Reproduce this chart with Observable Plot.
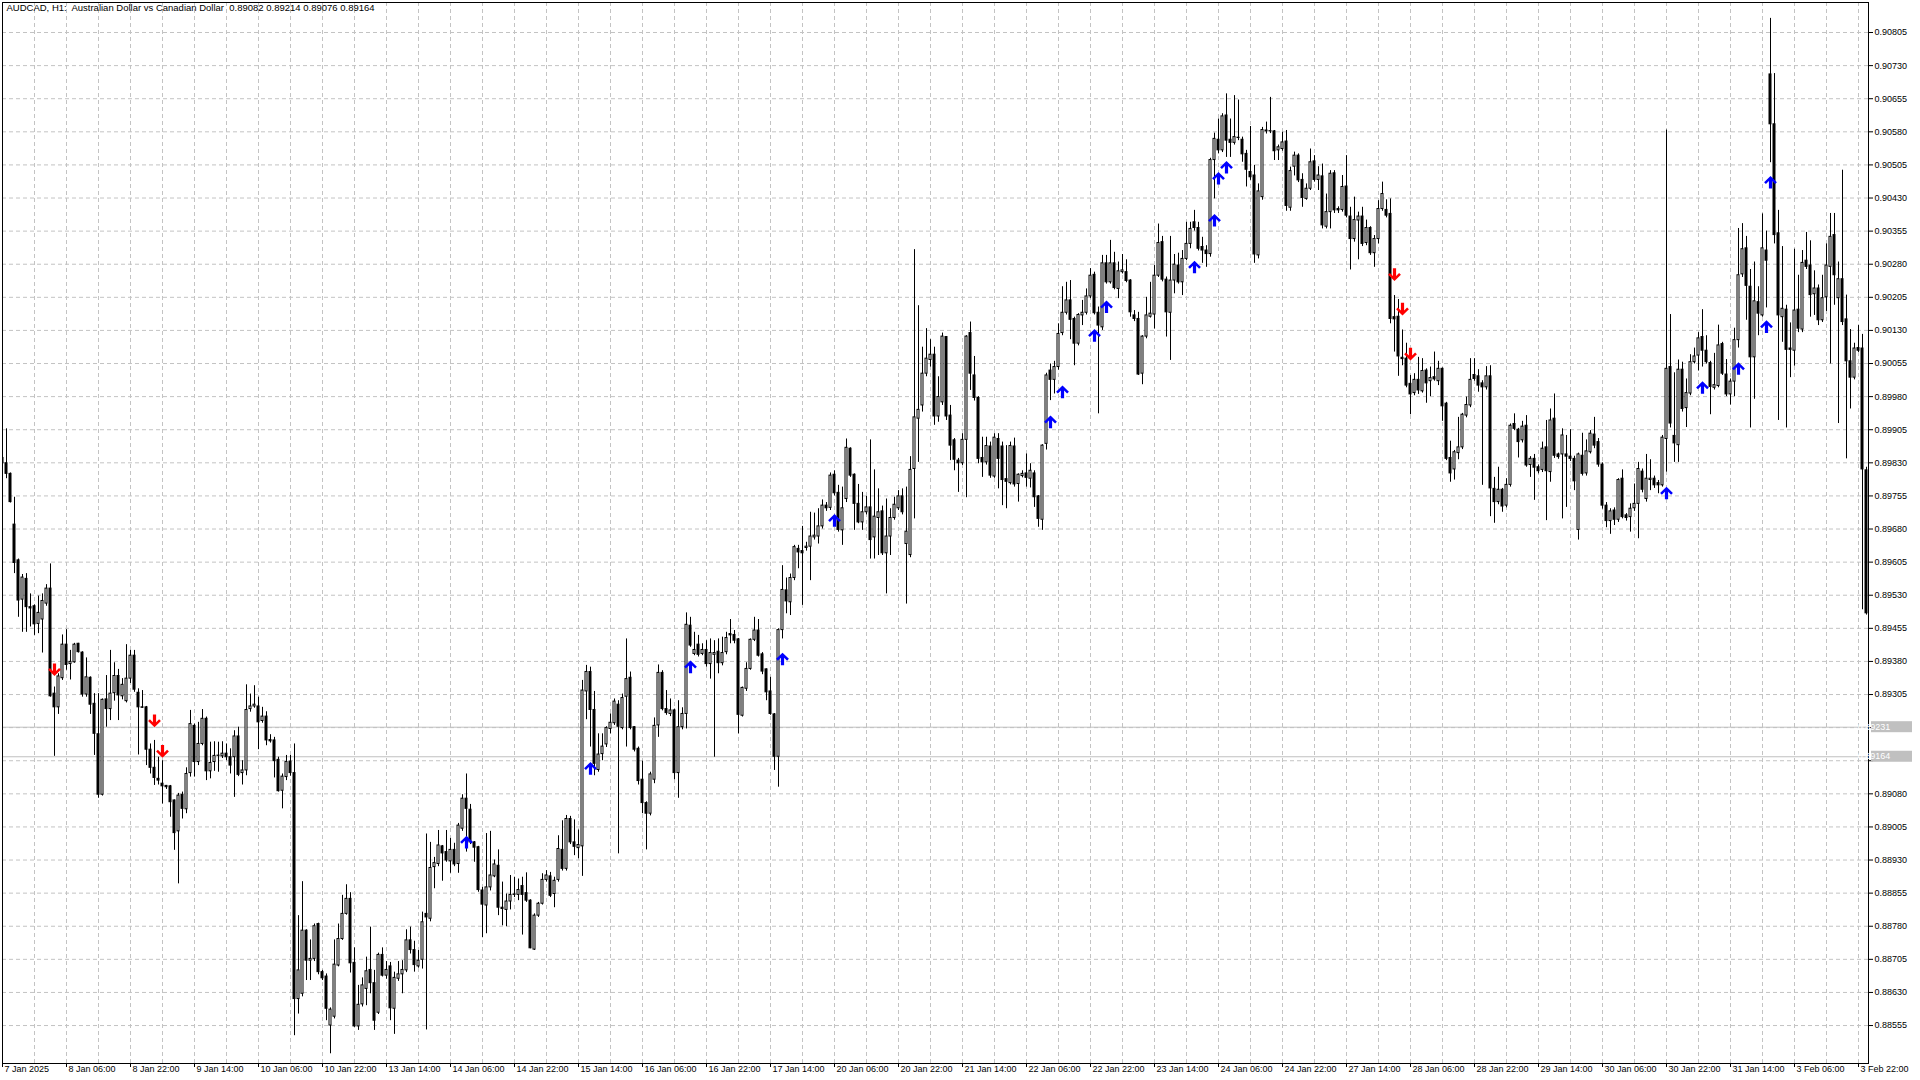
<!DOCTYPE html>
<html>
<head>
<meta charset="utf-8">
<script src="https://cdn.jsdelivr.net/npm/d3@7"></script>
<script src="https://cdn.jsdelivr.net/npm/@observablehq/plot@0.6"></script>
<style>
  html, body { margin: 0; padding: 0; background: #ffffff; }
  #chart { width: 1920px; height: 1080px; overflow: hidden; }
  svg text { white-space: pre; }
</style>
</head>
<body>
<div id="chart"></div>
<script>
// ---------------- DATA ----------------
const TITLE = "AUDCAD, H1:  Australian Dollar vs Canadian Dollar  0.89082 0.89214 0.89076 0.89164";

// Hourly OHLC, prices in points (price x 100000), bar 0 = 7 Jan 2025 14:00
const OPEN = [
89841,89829,89805,89690,89609,89520,89567,89503,89505,89465,
89475,89511,89545,89307,89276,89342,89418,89374,89378,89420,
89400,89305,89343,89284,89215,89078,89294,89272,89308,89347,
89301,89290,89341,89393,89309,89276,89276,89180,89139,89114,
89103,89098,89097,89065,88995,89078,89045,89127,89234,89152,
89193,89250,89131,89152,89166,89165,89171,89163,89163,89210,
89127,89133,89272,89278,89278,89245,89255,89202,89201,89157,
89087,89118,89153,89127,88615,88627,88770,88702,88706,88785,
88676,88666,88555,88575,88691,88751,88808,88842,88697,88553,
88603,88638,88681,88651,88584,88715,88668,88689,88593,88661,
88671,88680,88748,88726,88689,88704,88808,88797,88914,88921,
88961,88948,88927,88953,88921,89001,89069,89044,88970,88959,
88861,88827,88868,88893,88917,88822,88817,88836,88851,88851,
88871,88855,88838,88727,88804,88831,88885,88893,88853,88885,
88953,88910,89023,88970,88957,88961,89312,89356,89270,89134,
89170,89192,89227,89240,89282,89229,89300,89343,89231,89182,
89112,89059,89035,89112,89235,89354,89272,89261,89269,89127,
89231,89261,89461,89397,89418,89397,89406,89374,89395,89402,
89376,89401,89442,89440,89430,89257,89318,89363,89429,89450,
89396,89362,89312,89260,89164,89451,89541,89514,89569,89635,
89630,89637,89640,89661,89663,89686,89733,89728,89803,89762,
89677,89748,89862,89803,89737,89695,89718,89729,89661,89705,
89720,89625,89663,89705,89727,89754,89646,89621,89816,89930,
89960,90032,90063,90075,89935,89967,90115,89937,89881,89835,
89829,89882,90124,90028,89977,89841,89831,89867,89799,89884,
89867,89793,89784,89867,89782,89800,89806,89794,89806,89754,
89701,89873,90039,90018,90047,90124,90170,90198,90156,90100,
90164,90170,90207,90256,90170,90137,90282,90239,90282,90224,
90262,90262,90243,90164,90156,90032,90116,90161,90166,90254,
90330,90245,90170,90243,90277,90239,90292,90326,90375,90362,
90319,90311,90303,90516,90562,90538,90617,90562,90555,90566,
90562,90530,90489,90481,90300,90432,90583,90581,90581,90538,
90541,90558,90408,90501,90526,90471,90428,90451,90513,90471,
90479,90365,90398,90486,90405,90403,90456,90388,90337,90379,
90388,90328,90362,90305,90337,90405,90403,90394,90160,90161,
90068,90066,90009,89988,90018,89992,90039,90015,90024,90015,
90043,89964,89841,89815,89852,89865,89937,89960,90029,90026,
90010,90001,90026,89771,89741,89769,89733,89780,89918,89905,
89881,89914,89825,89839,89820,89814,89865,89809,89930,89849,
89849,89849,89844,89839,89678,89846,89806,89854,89894,89877,
89826,89733,89698,89722,89701,89794,89711,89707,89727,89737,
89810,89748,89791,89794,89784,89779,89884,90047,89891,89870,
90041,89954,89987,90058,90073,90115,90084,90056,90000,90004,
90099,90030,89985,90014,90108,90257,90316,90229,90069,90194,
90164,90311,90710,90597,90350,90160,90177,90089,90084,90177,
90132,90288,90277,90212,90225,90153,90205,90274,90346,90203,
90246,90155,90060,90023,90090,90089,89813
];
const HIGH = [
89908,89907,89807,89752,89612,89577,89579,89533,89508,89528,
89533,89554,89601,89322,89352,89440,89452,89405,89421,89421,
89402,89388,89345,89307,89307,89295,89348,89405,89377,89362,
89341,89418,89405,89405,89318,89314,89278,89193,89201,89163,
89155,89099,89099,89066,89081,89084,89139,89269,89238,89242,
89271,89254,89197,89198,89197,89198,89193,89182,89223,89231,
89155,89327,89306,89325,89299,89276,89266,89214,89208,89163,
89125,89167,89167,89193,88804,88881,88772,88749,88785,88787,
88680,88672,88595,88749,88785,88850,88874,88856,88731,88646,
88663,88710,88778,88680,88719,88731,88700,88698,88676,88700,
88702,88772,88778,88746,88725,88812,88989,88970,88936,88997,
88963,88997,88979,88968,89013,89078,89125,89056,88972,88961,
88868,88990,88995,88930,88953,88880,88853,88895,88891,88887,
88891,88901,88840,88808,88834,88899,88906,88902,88891,88985,
89019,89031,89029,89021,88998,89337,89371,89367,89312,89216,
89216,89232,89261,89295,89291,89306,89431,89356,89232,89186,
89154,89062,89129,89252,89372,89359,89314,89295,89272,89291,
89275,89490,89480,89446,89439,89420,89427,89431,89427,89431,
89435,89446,89475,89450,89432,89322,89377,89431,89480,89475,
89400,89363,89344,89262,89454,89597,89569,89578,89643,89643,
89686,89650,89718,89716,89726,89746,89740,89807,89812,89779,
89775,89884,89864,89805,89781,89763,89754,89882,89814,89771,
89732,89748,89726,89752,89767,89771,89775,89844,90313,90186,
90092,90134,90109,90092,90025,90124,90116,89960,89885,89840,
89896,90118,90149,90071,89980,89888,89888,89877,89896,89896,
89877,89869,89877,89886,89805,89812,89850,89828,89812,89756,
89871,90033,90054,90060,90145,90229,90239,90243,90160,90168,
90198,90224,90270,90262,90183,90300,90300,90334,90307,90285,
90302,90290,90245,90175,90171,90118,90205,90239,90277,90371,
90343,90251,90343,90302,90305,90311,90375,90375,90402,90375,
90341,90322,90520,90577,90609,90621,90666,90609,90662,90652,
90568,90538,90592,90504,90462,90590,90602,90658,90583,90550,
90579,90583,90500,90534,90530,90485,90462,90541,90526,90501,
90507,90439,90492,90492,90410,90481,90526,90409,90432,90398,
90409,90380,90365,90345,90424,90466,90426,90428,90209,90200,
90131,90101,90028,90032,90069,90066,90043,90047,90081,90060,
90045,89967,89879,89858,89933,89942,89979,90066,90066,90041,
90016,90048,90050,89797,89820,89772,89794,89918,89941,89908,
89924,89937,89844,89849,89825,89877,89926,89952,89986,89852,
89907,89892,89905,89845,89852,89897,89882,89903,89933,89885,
89830,89740,89726,89728,89794,89814,89715,89737,89782,89831,
89816,89849,89837,89800,89790,89892,90584,90166,90034,90063,
90058,90020,90075,90090,90125,90177,90118,90060,90078,90142,
90103,90064,90020,90135,90361,90372,90343,90268,90285,90229,
90394,90355,90837,90712,90402,90320,90187,90147,90314,90255,
90311,90352,90333,90265,90233,90255,90326,90395,90395,90285,
90493,90210,90132,90101,90141,90121,89820
];
const LOW = [
89826,89794,89739,89579,89480,89446,89446,89458,89439,89443,
89399,89505,89299,89165,89260,89337,89360,89338,89376,89399,
89299,89299,89260,89167,89070,89075,89231,89246,89290,89246,
89293,89286,89330,89310,89168,89274,89144,89125,89099,89100,
89057,89090,89027,88952,88876,89023,89035,89118,89118,89144,
89189,89110,89114,89131,89129,89160,89155,89125,89072,89119,
89100,89121,89265,89274,89180,89240,89189,89195,89116,89084,
89046,89110,89120,88532,88581,88620,88657,88657,88700,88670,
88657,88566,88491,88570,88688,88748,88805,88674,88551,88544,
88597,88600,88627,88544,88580,88665,88660,88566,88535,88655,
88627,88675,88717,88676,88685,88683,88545,88790,88865,88915,
88882,88925,88900,88915,88900,88995,88948,88965,88925,88857,
88754,88763,88860,88890,88804,88781,88779,88817,88845,88838,
88760,88834,88729,88725,88800,88828,88880,88845,88822,88880,
88905,88905,88965,88940,88933,88893,89248,89186,89121,89129,
89155,89185,89216,89235,88944,89225,89186,89225,89175,89100,
89035,88953,89030,89103,89208,89268,89258,89255,89112,89070,
89225,89227,89412,89393,89390,89393,89367,89340,89163,89352,
89370,89395,89420,89420,89216,89254,89312,89360,89425,89390,
89350,89291,89258,89133,89095,89431,89488,89484,89563,89590,
89507,89630,89563,89655,89646,89680,89720,89722,89755,89673,
89643,89740,89797,89677,89692,89677,89712,89612,89612,89620,
89620,89533,89620,89700,89722,89712,89510,89615,89703,89831,
89945,90025,90047,89915,89922,89960,89926,89835,89812,89763,
89824,89751,89994,89970,89828,89797,89825,89795,89795,89771,
89733,89726,89780,89775,89741,89796,89775,89773,89729,89684,
89677,89859,89971,89986,90040,90118,90165,90109,90050,90095,
90141,90165,90202,90165,89941,90130,90235,90235,90222,90202,
90258,90238,90160,90150,90028,90007,90111,90158,90133,90250,
90240,90115,90062,90213,90235,90209,90288,90315,90355,90310,
90282,90273,90296,90428,90530,90533,90522,90522,90550,90560,
90511,90455,90470,90282,90292,90425,90575,90576,90515,90515,
90536,90400,90400,90480,90465,90409,90425,90447,90466,90447,
90360,90360,90360,90395,90395,90398,90385,90267,90330,90290,
90320,90322,90300,90273,90326,90400,90385,90145,90081,90026,
90050,90000,89939,89982,89985,89988,89965,89980,90015,90005,
89924,89835,89786,89791,89837,89860,89932,89955,90015,89990,
89779,89995,89708,89693,89735,89718,89728,89775,89903,89841,
89875,89820,89797,89745,89805,89808,89699,89786,89840,89838,
89703,89729,89833,89767,89655,89800,89800,89850,89862,89820,
89725,89683,89668,89688,89695,89703,89698,89673,89720,89658,
89762,89741,89767,89772,89760,89775,89809,89909,89831,89831,
89945,89910,89982,90054,90038,90047,90054,89939,89995,90000,
90028,89980,89961,89980,90090,90250,90153,89909,89974,90118,
90160,90181,90510,90326,89926,90103,89909,90023,90049,90125,
90125,90268,90160,90164,90141,90148,90173,90054,90187,89919,
90141,89839,89952,90018,90080,89497,89485
];
const CLOSE = [
89829,89805,89741,89603,89518,89570,89503,89500,89464,89490,
89517,89545,89301,89276,89346,89418,89372,89379,89418,89401,
89305,89344,89282,89216,89078,89293,89272,89307,89347,89303,
89327,89341,89393,89316,89276,89275,89180,89139,89116,89110,
89097,89095,89061,88991,89076,89046,89125,89238,89152,89193,
89250,89131,89150,89166,89166,89171,89163,89144,89210,89123,
89133,89270,89278,89282,89242,89255,89201,89199,89154,89086,
89119,89152,89127,88615,88680,88770,88702,88706,88780,88676,
88662,88593,88591,88693,88751,88808,88842,88696,88553,88602,
88646,88678,88651,88566,88715,88668,88681,88594,88663,88671,
88681,88748,88726,88692,88702,88789,88800,88912,88923,88963,
88945,88929,88953,88920,89008,89069,89046,88970,88958,88862,
88829,88868,88895,88920,88822,88819,88836,88851,88852,88862,
88851,88838,88730,88804,88831,88885,88895,88849,88883,88955,
88910,89023,88970,88960,88964,89314,89356,89270,89148,89169,
89187,89229,89241,89289,89232,89297,89340,89229,89180,89109,
89059,89035,89124,89234,89354,89272,89263,89269,89127,89231,
89261,89463,89416,89406,89395,89406,89374,89399,89399,89376,
89399,89433,89439,89427,89259,89320,89363,89429,89450,89393,
89357,89310,89261,89164,89451,89542,89516,89569,89639,89627,
89625,89640,89663,89665,89686,89733,89727,89801,89761,89678,
89727,89864,89801,89737,89695,89718,89729,89655,89708,89718,
89625,89663,89705,89735,89754,89718,89674,89814,89933,89950,
90032,90066,90075,89935,89979,90116,89935,89869,89837,89829,
89882,90116,90032,89977,89839,89831,89868,89801,89887,89839,
89791,89787,89868,89781,89803,89805,89796,89812,89752,89703,
89869,90028,90018,90047,90122,90170,90198,90154,90100,90165,
90170,90207,90254,90169,90141,90282,90239,90282,90226,90264,
90266,90242,90171,90156,90030,90116,90164,90168,90254,90328,
90245,90171,90243,90279,90239,90292,90326,90360,90362,90315,
90311,90303,90516,90564,90538,90615,90560,90555,90568,90566,
90529,90494,90477,90302,90445,90584,90581,90581,90536,90545,
90556,90412,90491,90526,90470,90430,90451,90511,90471,90481,
90368,90398,90485,90402,90402,90455,90390,90337,90380,90388,
90326,90362,90305,90337,90405,90439,90390,90156,90155,90071,
90065,90005,89985,90018,89994,90038,90010,90022,90019,90043,
89958,89839,89806,89854,89865,89939,89961,90018,90020,90005,
90001,90026,89772,89741,89769,89731,89780,89914,89907,89877,
89912,89824,89839,89819,89811,89862,89811,89926,89846,89843,
89892,89844,89839,89788,89849,89805,89856,89896,89869,89826,
89733,89698,89720,89701,89791,89707,89705,89726,89737,89816,
89769,89794,89794,89779,89779,89887,90043,89919,89874,90041,
89952,89988,90058,90071,90112,90084,90058,90002,90006,90096,
90032,89985,90014,90108,90255,90314,90231,90069,90196,90168,
90316,90288,90597,90346,90164,90179,90086,90086,90175,90134,
90283,90274,90210,90225,90153,90203,90277,90342,90255,90246,
90149,90060,90023,90089,90084,89815,89489
];

// Signal arrows (bar index, price in points)
const UP_BARS   = [116, 147, 172, 195, 208, 262, 265, 273, 276, 298, 303, 304, 306, 416, 425, 434, 441, 442];
const UP_PRICE  = [88970, 89137, 89367, 89385, 89699, 89922, 89990, 90118, 90183, 90273, 90379, 90474, 90499, 89761, 90000, 90043, 90138, 90465];
const DOWN_BARS  = [13, 38, 40, 348, 350, 352];
const DOWN_PRICE = [89362, 89246, 89177, 90257, 90179, 90077];

// Time axis labels (one every 16 bars)
const TIME_LABELS = ["7 Jan 2025", "8 Jan 06:00", "8 Jan 22:00", "9 Jan 14:00", "10 Jan 06:00", "10 Jan 22:00",
  "13 Jan 14:00", "14 Jan 06:00", "14 Jan 22:00", "15 Jan 14:00", "16 Jan 06:00", "16 Jan 22:00",
  "17 Jan 14:00", "20 Jan 06:00", "20 Jan 22:00", "21 Jan 14:00", "22 Jan 06:00", "22 Jan 22:00",
  "23 Jan 14:00", "24 Jan 06:00", "24 Jan 22:00", "27 Jan 14:00", "28 Jan 06:00", "28 Jan 22:00",
  "29 Jan 14:00", "30 Jan 06:00", "30 Jan 22:00", "31 Jan 14:00", "3 Feb 06:00", "3 Feb 22:00"];

// Price axis ticks (points); the two hidden under the price tags carry no label
const PRICE_TICKS = [88555, 88630, 88705, 88780, 88855, 88930, 89005, 89080, 89155, 89230, 89305, 89380,
  89455, 89530, 89605, 89680, 89755, 89830, 89905, 89980, 90055, 90130, 90205, 90280, 90355, 90430,
  90505, 90580, 90655, 90730, 90805];
const HIDDEN_TICKS = [89155, 89230];
const PRICE_RANGE = [88469, 90873];   // visible price window
const ASK = 89231, BID = 89164;        // current price lines

// ---------------- BUILD ----------------
const PT = 1e5;
const N = OPEN.length;
const candles = OPEN.map((o, i) => ({
  i, open: o / PT, high: HIGH[i] / PT, low: LOW[i] / PT, close: CLOSE[i] / PT
}));
const bodies = candles.map(d => {
  const lo = Math.min(d.open, d.close);
  const hi = Math.max(d.open, d.close, lo + 0.000006);
  return {...d, lo, hi, bull: d.close >= d.open};
});
const ups = UP_BARS.map((b, k) => ({i: b, p: UP_PRICE[k] / PT}));
const downs = DOWN_BARS.map((b, k) => ({i: b, p: DOWN_PRICE[k] / PT}));
const timeTicks = TIME_LABELS.map((t, k) => ({i: k * 16, t}));
const gridX = d3.range(8, N, 8);
const yTicks = PRICE_TICKS.map(v => v / PT);
const hidden = new Set(HIDDEN_TICKS);
const fmt5 = d3.format(".5f");

const arrowUp = { draw(ctx) {
  const P = [[-1.6,6],[1.6,6],[1.6,-1.6],[4.6,1.4],[6.4,-0.4],[0,-6.6],[-6.4,-0.4],[-4.6,1.4],[-1.6,-1.6]];
  ctx.moveTo(P[0][0], P[0][1]); for (let k = 1; k < P.length; k++) ctx.lineTo(P[k][0], P[k][1]); ctx.closePath();
}};
const arrowDown = { draw(ctx) {
  const P = [[-1.6,-6],[1.6,-6],[1.6,1.6],[4.6,-1.4],[6.4,0.4],[0,6.6],[-6.4,0.4],[-4.6,-1.4],[-1.6,1.6]];
  ctx.moveTo(P[0][0], P[0][1]); for (let k = 1; k < P.length; k++) ctx.lineTo(P[k][0], P[k][1]); ctx.closePath();
}};

const FONT = '"Liberation Sans", Arial, sans-serif';
const W = 1920, H = 1080, ML = 2, MR = 52, MT = 2, MB = 17;
const GRID = "#c3c3c3";

const chart = Plot.plot({
  width: W, height: H,
  marginLeft: ML, marginRight: MR, marginTop: MT, marginBottom: MB,
  style: {background: "#ffffff", color: "#000000", fontFamily: FONT, fontSize: "9px", overflow: "visible"},
  x: {type: "linear", domain: [0, N - 0.5], axis: "bottom", ticks: timeTicks.map(d => d.i), tickSize: 4,
      tickFormat: () => "", label: null},
  y: {type: "linear", domain: PRICE_RANGE.map(v => v / PT), axis: "right", ticks: yTicks, tickSize: 4,
      tickPadding: 2, tickFormat: v => hidden.has(Math.round(v * PT)) ? "" : fmt5(v), label: null},
  marks: [
    Plot.ruleY(yTicks, {stroke: GRID, strokeDasharray: "4,3"}),
    Plot.ruleX(gridX, {stroke: GRID, strokeDasharray: "4,3"}),
    Plot.ruleY([ASK / PT, BID / PT], {stroke: "#c0c0c0", strokeWidth: 1}),
    Plot.ruleX(candles, {x: "i", y1: "low", y2: "high", stroke: "#000000", strokeWidth: 1, clip: true}),
    Plot.rect(bodies.filter(d => d.bull), {x1: d => d.i - 0.25, x2: d => d.i + 0.25, y1: "lo", y2: "hi",
      fill: "#ffffff", stroke: "#000000", strokeWidth: 1, clip: true}),
    Plot.rect(bodies.filter(d => !d.bull), {x1: d => d.i - 0.25, x2: d => d.i + 0.25, y1: "lo", y2: "hi",
      fill: "#000000", stroke: "#000000", strokeWidth: 1, clip: true}),
    Plot.dot(ups, {x: "i", y: "p", symbol: arrowUp, fill: "#0000ff", stroke: "none"}),
    Plot.dot(downs, {x: "i", y: "p", symbol: arrowDown, fill: "#ff0000", stroke: "none"}),
    Plot.text(timeTicks, {x: "i", text: "t", frameAnchor: "bottom", textAnchor: "start", lineAnchor: "top",
      dx: 2, dy: 2, fill: "#000000", fontSize: 9}),
    Plot.text([TITLE], {text: d => d, frameAnchor: "top-left", textAnchor: "start", lineAnchor: "top",
      dx: 4, dy: 2, fill: "#000000", fontSize: 9.5}),
    Plot.frame({stroke: "#000000"})
  ]
});

document.getElementById("chart").appendChild(chart);

// Current price tags on the price axis
const ys = chart.scale("y");
const tags = d3.select(chart).append("g");
[ASK, BID].forEach(v => {
  const yy = ys.apply(v / PT);
  tags.append("rect").attr("x", W - MR + 3).attr("y", yy - 5.5).attr("width", 41).attr("height", 11)
    .attr("fill", "#c0c0c0");
  tags.append("text").attr("x", W - MR + 6).attr("y", yy).attr("dy", "0.35em").attr("fill", "#ffffff")
    .attr("font-family", FONT).attr("font-size", 9).text(fmt5(v / PT));
});
</script>
</body>
</html>
